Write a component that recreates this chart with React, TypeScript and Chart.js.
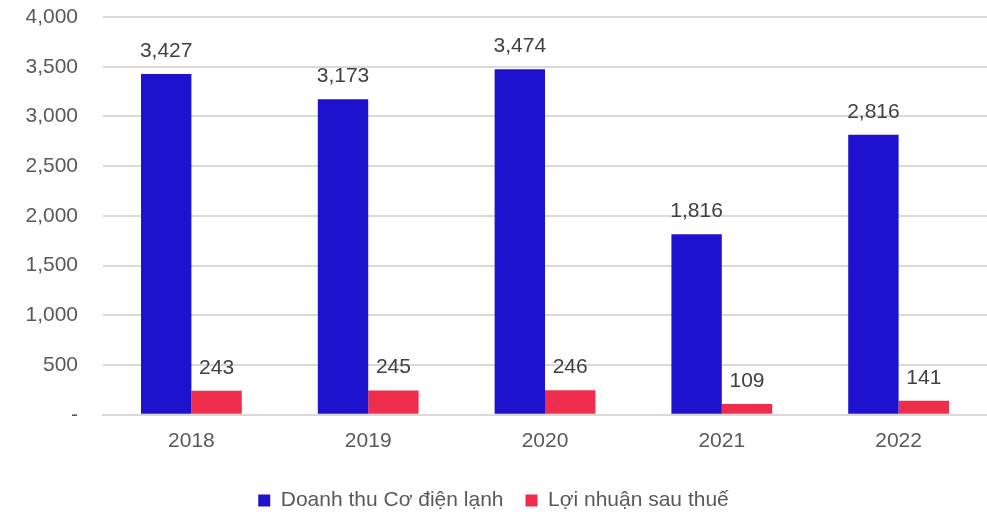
import React, { useEffect, useRef } from "react";
import { Chart, registerables } from "chart.js";

Chart.register(...registerables);

const categories = ["2018", "2019", "2020", "2021", "2022"];
const revenue = [3427, 3173, 3474, 1816, 2816];
const profit = [243, 245, 246, 109, 141];
const seriesNames = ["Doanh thu Cơ điện lạnh", "Lợi nhuận sau thuế"];
const colors = ["#1F12CF", "#EE2E4C"];

const FONT = "'Liberation Sans', Arial, sans-serif";

const fmt = (v: number) => v.toLocaleString("en-US");

const dataLabels = {
  id: "dataLabels",
  afterDatasetsDraw(chart: any) {
    const ctx = chart.ctx;
    ctx.save();
    ctx.font = `21px ${FONT}`;
    ctx.fillStyle = "#404040";
    ctx.textAlign = "center";
    ctx.textBaseline = "alphabetic";
    chart.data.datasets.forEach((ds: any, i: number) => {
      const meta = chart.getDatasetMeta(i);
      meta.data.forEach((bar: any, j: number) => {
        ctx.fillText(fmt(ds.data[j]), bar.x, bar.y - 17);
      });
    });
    ctx.restore();
  },
};

export default function App() {
  const ref = useRef<HTMLCanvasElement>(null);
  useEffect(() => {
    document.body.style.margin = "0";
    const chart = new Chart(ref.current!, {
      type: "bar",
      data: {
        labels: categories,
        datasets: [
          { label: seriesNames[0], data: revenue, backgroundColor: colors[0] },
          { label: seriesNames[1], data: profit, backgroundColor: colors[1] },
        ],
      },
      options: {
        animation: false,
        responsive: false,
        layout: { padding: { top: 17, right: 0, left: 0, bottom: 0 } },
        datasets: {
          bar: { categoryPercentage: 0.57, barPercentage: 1 },
        } as any,
        scales: {
          x: {
            grid: { display: false, drawTicks: false },
            border: { color: "#D9D9D9", width: 2 },
            ticks: { color: "#595959", font: { family: FONT, size: 21 }, padding: 14 },
          },
          y: {
            min: 0,
            max: 4000,
            afterFit: (s: any) => {
              s.width = 103;
            },
            grid: {
              color: "#D9D9D9",
              lineWidth: 2,
              drawTicks: true,
              tickLength: 25,
              tickColor: "rgba(0,0,0,0)",
            },
            border: { display: false },
            ticks: {
              stepSize: 500,
              padding: 0,
              color: "#595959",
              font: { family: FONT, size: 21 },
              callback: (v: any) => (v === 0 ? "-" : fmt(Number(v))),
            },
          },
        },
        plugins: {
          legend: {
            position: "bottom",
            labels: {
              boxWidth: 12,
              boxHeight: 12,
              padding: 22,
              color: "#595959",
              font: { family: FONT, size: 21 },
            },
          },
          tooltip: { enabled: false },
        },
      },
      plugins: [dataLabels],
    });
    return () => chart.destroy();
  }, []);
  return (
    <div style={{ width: 987, height: 516, overflow: "hidden" }}>
      <canvas ref={ref} width={987} height={521} />
    </div>
  );
}
